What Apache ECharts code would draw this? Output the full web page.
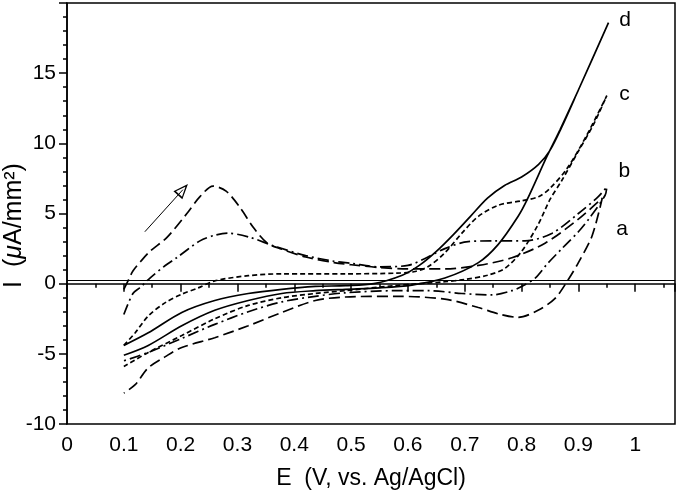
<!DOCTYPE html>
<html>
<head>
<meta charset="utf-8">
<script src="https://cdn.jsdelivr.net/npm/echarts@6/dist/echarts.min.js"></script>
<style>
  html, body { margin: 0; padding: 0; background: #fff; }
  #chart { width: 677px; height: 496px; }
</style>
</head>
<body>
<div id="chart"></div>
<script>
// E (V) / I (uA/mm2) pairs, forward sweep then reverse sweep
var aForward = [[0.1,-0.4],[0.108,0.25],[0.116,0.9],[0.13,1.6],[0.146,2.3],[0.176,3.3],[0.211,5.0],[0.234,6.2],[0.257,6.95],[0.28,6.6],[0.305,5.4],[0.328,4.0],[0.352,2.9],[0.375,2.5],[0.42,1.9],[0.47,1.5],[0.5,1.35],[0.55,1.15],[0.6,1.05],[0.665,1.05],[0.724,1.3],[0.783,1.85],[0.842,2.9],[0.9,4.6],[0.942,6.1]];
var aReverse = [[0.942,6.1],[0.924,3.4],[0.9,1.5],[0.882,0.28],[0.859,-1.05],[0.829,-1.9],[0.794,-2.4],[0.759,-2.15],[0.724,-1.7],[0.665,-1.1],[0.577,-0.9],[0.49,-0.95],[0.437,-1.2],[0.378,-2.05],[0.319,-3.0],[0.26,-3.85],[0.202,-4.55],[0.173,-5.2],[0.143,-6.0],[0.12,-7.2],[0.1,-7.8]];

var bForward = [[0.1,-2.2],[0.116,-0.7],[0.128,-0.3],[0.146,0.4],[0.17,1.2],[0.193,1.85],[0.234,3.05],[0.26,3.45],[0.283,3.6],[0.322,3.3],[0.363,2.7],[0.42,2.0],[0.47,1.6],[0.5,1.45],[0.548,1.2],[0.6,1.3],[0.63,1.8],[0.665,2.5],[0.706,3.0],[0.754,3.05],[0.806,3.05],[0.854,3.6],[0.9,5.0],[0.935,6.2],[0.95,6.9]];
var bReverse = [[0.947,6.3],[0.92,4.7],[0.9,3.7],[0.871,2.5],[0.845,1.4],[0.824,0.4],[0.8,-0.2],[0.783,-0.5],[0.748,-0.8],[0.695,-0.7],[0.636,-0.5],[0.577,-0.5],[0.49,-0.65],[0.437,-0.9],[0.378,-1.3],[0.319,-2.0],[0.26,-2.9],[0.202,-3.9],[0.143,-4.9],[0.1,-5.5]];

var cForward = [[0.1,-4.4],[0.12,-3.5],[0.143,-2.3],[0.173,-1.35],[0.202,-0.75],[0.231,-0.3],[0.26,0.2],[0.319,0.57],[0.378,0.7],[0.49,0.7],[0.58,0.75],[0.61,0.85],[0.635,1.2],[0.665,2.2],[0.695,3.6],[0.724,4.8],[0.76,5.6],[0.8,5.9],[0.83,6.2],[0.85,6.8],[0.88,8.2],[0.915,10.6],[0.95,13.4]];
var cReverse = [[0.95,13.4],[0.926,11.3],[0.898,9.3],[0.87,7.3],[0.85,6.0],[0.829,4.2],[0.8,2.3],[0.771,1.1],[0.74,0.6],[0.7,0.3],[0.665,0.14],[0.577,-0.14],[0.49,-0.5],[0.437,-0.7],[0.378,-1.0],[0.319,-1.55],[0.26,-2.5],[0.202,-3.7],[0.143,-4.9],[0.1,-5.9]];

var dForward = [[0.1,-4.4],[0.143,-3.5],[0.202,-2.05],[0.26,-1.2],[0.319,-0.7],[0.378,-0.4],[0.437,-0.2],[0.49,-0.14],[0.54,0.0],[0.59,0.6],[0.62,1.3],[0.65,2.3],[0.68,3.5],[0.71,4.8],[0.74,6.1],[0.77,7.0],[0.8,7.6],[0.83,8.5],[0.85,9.5],[0.87,11.1],[0.9,13.8],[0.953,18.6]];
var dReverse = [[0.953,18.6],[0.9,13.8],[0.868,11.0],[0.845,9.1],[0.81,6.0],[0.794,4.8],[0.759,2.8],[0.724,1.5],[0.665,0.4],[0.607,-0.1],[0.55,-0.3],[0.49,-0.4],[0.437,-0.5],[0.378,-0.7],[0.319,-1.2],[0.26,-1.9],[0.202,-3.0],[0.143,-4.4],[0.1,-5.1]];

var curveNames = ['a', 'b', 'c', 'd'];
var labelPos = [[0.977, 3.9], [0.981, 8.0], [0.981, 13.5], [0.982, 18.8]];
var baseLine = 0.26;
var arrowFrom = [0.137, 3.7], arrowTo = [0.204, 6.7];

var font = '"Liberation Sans", Arial, sans-serif';
var dashes = [[11, 5], [11, 4, 2, 4], [5, 3], 'solid'];
var curves = [aForward.concat(aReverse), bForward.concat(bReverse), cForward.concat(cReverse), dForward.concat(dReverse)];

var series = [];
for (var i = 0; i < curves.length; i++) {
    series.push({
        type: 'line',
        name: curveNames[i],
        data: curves[i],
        showSymbol: false,
        smooth: 0.3,
        lineStyle: { color: '#000', width: 1.7, type: dashes[i] },
        silent: true,
        markPoint: {
            symbol: 'circle',
            symbolSize: 0,
            label: { show: true, position: 'inside', formatter: curveNames[i], color: '#000', fontSize: 21, fontFamily: font },
            data: [{ coord: labelPos[i] }]
        }
    });
}
// horizontal reference line
series[0].markLine = {
    silent: true,
    symbol: ['none', 'none'],
    label: { show: false },
    lineStyle: { type: 'solid', color: '#000', width: 1 },
    data: [{ yAxis: baseLine }]
};
// sweep direction arrow (open head)
series[1].markLine = {
    silent: true,
    symbol: ['none', 'path://M0,0L10,18L-10,18Z M0,4.5L-6.8,16L6.8,16Z'],
    symbolSize: [12, 15],
    label: { show: false },
    lineStyle: { type: 'solid', color: '#000', width: 1 },
    data: [[{ coord: arrowFrom }, { coord: arrowTo }]]
};

var chart = echarts.init(document.getElementById('chart'));
chart.setOption({
    backgroundColor: '#fff',
    animation: false,
    grid: { left: 67, right: 2, top: 3, bottom: 72, outerBoundsMode: 'none', containLabel: false, show: true, borderColor: '#000', borderWidth: 1.5 },
    xAxis: {
        type: 'value',
        min: 0, max: 1.07, interval: 0.1,
        name: 'E  (V, vs. Ag/AgCl)',
        nameLocation: 'middle',
        nameGap: 43,
        nameMoveOverlap: false,
        nameTextStyle: { color: '#000', fontSize: 23, fontFamily: font },
        splitLine: { show: false },
        axisLine: { lineStyle: { color: '#000', width: 1.5 } },
        axisTick: { length: 8, lineStyle: { color: '#000', width: 1.5 } },
        minorTick: { show: true, splitNumber: 2, length: 4, lineStyle: { color: '#000', width: 1.5 } },
        axisLabel: {
            color: '#000', fontSize: 21, fontFamily: font, margin: 11,
            formatter: function (v) {
                if (Math.abs(v * 10 - Math.round(v * 10)) > 1e-6) return '';
                return String(Math.round(v * 10) / 10);
            }
        }
    },
    yAxis: {
        type: 'value',
        min: -10, max: 20, interval: 5,
        name: '{n|I  (}{i|μ}{n|A/mm²)}',
        nameLocation: 'middle',
        nameGap: 40,
        nameMoveOverlap: false,
        nameTextStyle: {
            color: '#000', fontSize: 25, fontFamily: font,
            padding: [0, 24, 0, 0],
            rich: {
                n: { fontSize: 25, fontFamily: font, color: '#000' },
                i: { fontSize: 25, fontFamily: font, color: '#000', fontStyle: 'italic' }
            }
        },
        splitLine: { show: false },
        axisLine: { lineStyle: { color: '#000', width: 1.5 } },
        axisTick: { length: 8, lineStyle: { color: '#000', width: 1.5 } },
        minorTick: { show: true, splitNumber: 5, length: 4, lineStyle: { color: '#000', width: 1.5 } },
        axisLabel: {
            color: '#000', fontSize: 21, fontFamily: font, margin: 11,
            formatter: function (v) { return v === 20 ? '' : String(v); }
        }
    },
    series: series
});
</script>
</body>
</html>
